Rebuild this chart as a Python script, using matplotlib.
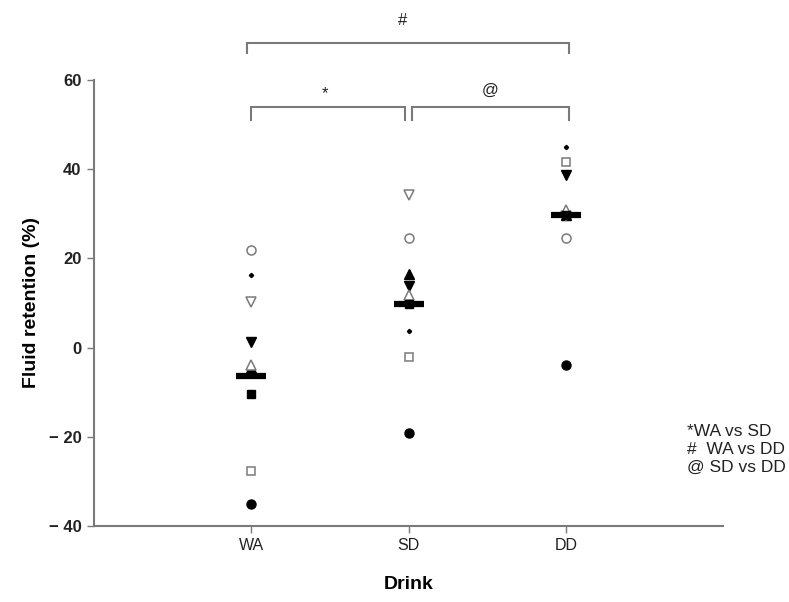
import numpy as np
import matplotlib
matplotlib.use('Agg')
import matplotlib.pyplot as plt

plt.rcParams['font.family'] = ['Liberation Sans', 'DejaVu Sans']

drinks = ['WA', 'SD', 'DD']
xpos = [1, 2, 3]

# one value per subject, per drink
s1_fcircle = [-35.1, -19.2, -4.0]
s2_ocircle = [21.9, 24.5, 24.5]
s3_fdown = [1.3, 13.8, 38.7]
s4_oup = [-3.9, 11.8, 30.9]
s5_fsquare = [-10.4, 9.8, 29.7]
s6_osquare = [-27.6, -2.0, 41.7]
s7_dot = [16.3, 3.8, 45.0]
s8_odown = [10.3, 34.2, 29.6]
s9_fup = [-4.6, 16.6, 29.7]
bar_vals = [-6.4, 9.8, 29.7]

gray = '#7a7a7a'
fig = plt.figure(figsize=(7.89, 6.02), dpi=100)
ax = fig.add_axes([94/789, 1-526/602, (723-94)/789, (526-80)/602])

ax.plot(xpos, s9_fup, '^', color='black', ms=6.5, ls='none', zorder=2)
ax.plot(xpos, s8_odown, 'v', mfc='white', mec=gray, mew=1.1, ms=6.5, ls='none', zorder=2)
ax.plot(xpos, s1_fcircle, 'o', color='black', ms=6.5, ls='none', zorder=3)
ax.plot(xpos, s2_ocircle, 'o', mfc='white', mec=gray, mew=1.1, ms=6.5, ls='none', zorder=3)
ax.plot(xpos, s3_fdown, 'v', color='black', ms=6.5, ls='none', zorder=3)
ax.plot(xpos, s4_oup, '^', mfc='white', mec=gray, mew=1.1, ms=6.5, ls='none', zorder=3)
ax.plot(xpos, s5_fsquare, 's', color='black', ms=6, ls='none', zorder=3)
ax.plot(xpos, s6_osquare, 's', mfc='white', mec=gray, mew=1.1, ms=6, ls='none', zorder=3)
ax.plot(xpos, s7_dot, 'D', color='black', ms=2.2, ls='none', zorder=3)
ax.plot(xpos, bar_vals, '_', color='black', ms=21, mew=4.5, ls='none', zorder=4)

ax.set_xlim(0, 4)
ax.set_ylim(-40, 60)
ax.set_xticks(xpos)
ax.set_xticklabels(drinks, fontsize=11.5, color='#222222')
yt = [-40, -20, 0, 20, 40, 60]
ax.set_yticks(yt)
ax.set_yticklabels([('\u2212 %d' % -v) if v < 0 else str(v) for v in yt],
                   fontsize=12, color='#222222', fontweight='bold')
for s in ['top', 'right']:
    ax.spines[s].set_visible(False)
for s in ['left', 'bottom']:
    ax.spines[s].set_color(gray)
    ax.spines[s].set_linewidth(1.5)
ax.tick_params(direction='out', length=5, width=1, color=gray, pad=4)

ax.set_xlabel('Drink', fontsize=14, fontweight='bold', labelpad=16)
ax.set_ylabel('Fluid retention (%)', fontsize=14, fontweight='bold', labelpad=6)

# significance brackets
def bracket(x1, x2, ytop, ybot, label, xt, yt_):
    ax.plot([x1, x1, x2, x2], [ybot, ytop, ytop, ybot], color=gray, lw=1.5,
            clip_on=False, solid_joinstyle='miter')
    ax.text(xt, yt_, label, ha='center', va='center', fontsize=12, color='#222222',
            clip_on=False)

bracket(0.97, 3.02, 68.4, 66.0, '#', 1.96, 73.3)
bracket(1.0, 1.98, 54.0, 51.0, '*', 1.47, 57.0)
bracket(2.02, 3.02, 54.0, 51.0, '@', 2.52, 57.7)

fig.text(687/789, 1-431/602, '*WA vs SD', fontsize=12.5, color='#222222', va='center')
fig.text(687/789, 1-449/602, '#  WA vs DD', fontsize=12.5, color='#222222', va='center')
fig.text(687/789, 1-467/602, '@ SD vs DD', fontsize=12.5, color='#222222', va='center')

fig.savefig('out.png', dpi=100)
